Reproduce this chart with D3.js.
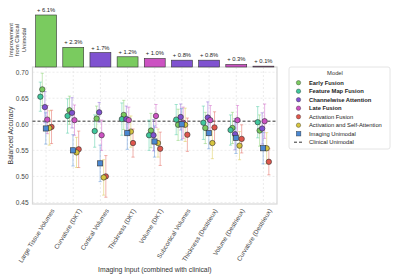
<!DOCTYPE html>
<html>
<head>
<meta charset="utf-8">
<script src="https://cdn.jsdelivr.net/npm/d3@7"></script>
<style>
  body { margin: 0; background: #fff; }
  svg { display: block; font-family: "Liberation Sans", Arial, sans-serif; }
</style>
</head>
<body>
<div id="chart"></div>
<script>
const categories = [
  "Large Tissue Volumes", "Curvature (DKT)", "Cortical Volumes", "Thickness (DKT)",
  "Volume (DKT)", "Subcortical Volumes", "Thickness (Destrieux)", "Volume (Destrieux)",
  "Curvature (Destrieux)"
]

const models = [
  "Early Fusion", "Feature Map Fusion", "Channelwise Attention", "Late Fusion",
  "Activation Fusion", "Activation and Self-Attention", "Imaging Unimodal"
]
const boldModels = ["Early Fusion", "Feature Map Fusion", "Channelwise Attention", "Late Fusion"]
const modelColors = ["#7acb5f", "#3fc79c", "#7f52d0", "#cc52c2", "#df564c", "#d6c43e", "#4a88d2"]

const earlyFusion        = [0.667, 0.627, 0.611, 0.618, 0.588, 0.599, 0.593, 0.593, 0.588]
const featureMapFusion   = [0.653, 0.616, 0.587, 0.610, 0.579, 0.609, 0.603, 0.589, 0.604]
const channelwise        = [0.633, 0.622, 0.623, 0.610, 0.579, 0.614, 0.613, 0.581, 0.592]
const lateFusion         = [0.609, 0.608, 0.579, 0.608, 0.616, 0.603, 0.608, 0.608, 0.606]
const activationFusion   = [0.595, 0.552, 0.500, 0.564, 0.553, 0.580, 0.594, 0.572, 0.528]
const activationSelfAttn = [0.593, 0.546, 0.498, 0.586, 0.564, 0.599, 0.564, 0.559, 0.554]
const imagingUnimodal    = [0.592, 0.550, 0.525, 0.583, 0.567, 0.600, 0.583, 0.574, 0.554]

const earlyFusionErr        = [0.031, 0.027, 0.024, 0.028, 0.033, 0.030, 0.030, 0.030, 0.030]
const featureMapFusionErr   = [0.028, 0.033, 0.031, 0.031, 0.029, 0.029, 0.032, 0.029, 0.030]
const channelwiseErr        = [0.030, 0.029, 0.019, 0.025, 0.030, 0.025, 0.030, 0.030, 0.030]
const lateFusionErr         = [0.027, 0.029, 0.029, 0.025, 0.022, 0.030, 0.028, 0.028, 0.033]
const activationFusionErr   = [0.032, 0.035, 0.040, 0.027, 0.032, 0.032, 0.030, 0.027, 0.025]
const activationSelfAttnErr = [0.033, 0.029, 0.034, 0.030, 0.027, 0.032, 0.030, 0.027, 0.030]
const imagingUnimodalErr    = [0.030, 0.030, 0.035, 0.031, 0.030, 0.030, 0.030, 0.030, 0.030]

const clinicalUnimodal = 0.606

const improvement = [6.1, 2.3, 1.7, 1.2, 1.0, 0.8, 0.8, 0.3, 0.1]
const bestModel = [
  "Early Fusion", "Early Fusion", "Channelwise Attention", "Early Fusion", "Late Fusion",
  "Channelwise Attention", "Channelwise Attention", "Late Fusion", "Late Fusion"
]

const yTicks = [0.45, 0.50, 0.55, 0.60, 0.65, 0.70]

const seriesValues = [earlyFusion, featureMapFusion, channelwise, lateFusion,
  activationFusion, activationSelfAttn, imagingUnimodal]
const seriesErrors = [earlyFusionErr, featureMapFusionErr, channelwiseErr, lateFusionErr,
  activationFusionErr, activationSelfAttnErr, imagingUnimodalErr]

// horizontal dodge per model, as a fraction of the category step
const dodge = [-0.14, -0.21, -0.045, 0.045, 0.2, 0.12, -0.01]

const width = 400, height = 280
const plot = { left: 32.5, right: 277, top: 67, bottom: 204 }
const barTop = 15

const svg = d3.select("#chart").append("svg")
  .attr("width", width).attr("height", height)
  .attr("viewBox", `0 0 ${width} ${height}`)

const x = d3.scalePoint().domain(categories).range([plot.left, plot.right]).padding(0.5)
const step = x.step()
const y = d3.scaleLinear().domain([0.447, 0.71]).range([plot.bottom, plot.top])
const yBar = d3.scaleLinear().domain([0, 6.1]).range([plot.top, barTop])
const color = d3.scaleOrdinal().domain(models).range(modelColors)

// grid
const grid = svg.append("g")
grid.selectAll("line.v").data(categories).join("line")
  .attr("x1", d => x(d)).attr("x2", d => x(d))
  .attr("y1", plot.top).attr("y2", plot.bottom)
  .attr("stroke", "#e4e4e4").attr("stroke-width", 0.7).attr("stroke-dasharray", "2,2")
grid.selectAll("line.h").data(yTicks).join("line")
  .attr("x1", plot.left).attr("x2", plot.right)
  .attr("y1", d => y(d)).attr("y2", d => y(d))
  .attr("stroke", "#e4e4e4").attr("stroke-width", 0.7).attr("stroke-dasharray", "2,2")

// frame
svg.append("rect")
  .attr("x", plot.left).attr("y", plot.top)
  .attr("width", plot.right - plot.left).attr("height", plot.bottom - plot.top)
  .attr("fill", "none").attr("stroke", "#d8d8d8").attr("stroke-width", 1.2)

// y axis
const yAxis = svg.append("g")
  .attr("transform", `translate(${plot.left},0)`)
  .call(d3.axisLeft(y).tickValues(yTicks).tickFormat(d3.format(".2f")).tickSize(0).tickPadding(4))
yAxis.select(".domain").remove()
yAxis.selectAll("text").attr("font-size", 6.5).attr("fill", "#444").attr("font-family", "Liberation Sans, Arial, sans-serif")

// x axis
const xAxis = svg.append("g")
  .attr("transform", `translate(0,${plot.bottom})`)
  .call(d3.axisBottom(x).tickSize(0).tickPadding(3))
xAxis.select(".domain").remove()
xAxis.selectAll("text")
  .attr("font-size", 6.3).attr("fill", "#444").attr("font-family", "Liberation Sans, Arial, sans-serif")
  .attr("text-anchor", "end")
  .attr("dy", "0.3em")
  .attr("transform", "translate(4,4) rotate(-58)")

// axis titles
svg.append("text")
  .attr("transform", `translate(13,${(plot.top + plot.bottom) / 2}) rotate(-90)`)
  .attr("text-anchor", "middle").attr("font-size", 6.8).attr("fill", "#333")
  .text("Balanced Accuracy")
svg.append("text")
  .attr("x", (plot.left + plot.right) / 2).attr("y", 272)
  .attr("text-anchor", "middle").attr("font-size", 6.8).attr("fill", "#333")
  .text("Imaging Input (combined with clinical)")

const barTitle = svg.append("text")
  .attr("transform", `translate(18,40) rotate(-90)`)
  .attr("text-anchor", "middle").attr("font-size", 5.8).attr("fill", "#333")
;["Improvement", "from Clinical", "Unimodal"].forEach((t, i) => {
  barTitle.append("tspan").attr("x", 0).attr("dy", i === 0 ? "-0.9em" : "1.1em").text(t)
})

// improvement bars
const barW = step * 0.77
svg.append("g").selectAll("rect").data(categories).join("rect")
  .attr("x", d => x(d) - barW / 2)
  .attr("y", (d, i) => yBar(improvement[i]))
  .attr("width", barW)
  .attr("height", (d, i) => plot.top - yBar(improvement[i]))
  .attr("fill", (d, i) => color(bestModel[i]))
  .attr("stroke", "#333").attr("stroke-width", 0.6)
svg.append("g").selectAll("text").data(categories).join("text")
  .attr("x", d => x(d))
  .attr("y", (d, i) => yBar(improvement[i]) - 3)
  .attr("text-anchor", "middle").attr("font-size", 5.8).attr("fill", "#222")
  .text((d, i) => `+ ${improvement[i].toFixed(1)}%`)

// clinical unimodal reference
svg.append("line")
  .attr("x1", plot.left).attr("x2", plot.right)
  .attr("y1", y(clinicalUnimodal)).attr("y2", y(clinicalUnimodal))
  .attr("stroke", "#333").attr("stroke-width", 1).attr("stroke-dasharray", "3,2")

// error bars and points
const points = []
models.forEach((m, mi) => {
  categories.forEach((c, ci) => {
    points.push({ model: m, mi, cat: c, v: seriesValues[mi][ci], e: seriesErrors[mi][ci] })
  })
})
const px = d => x(d.cat) + dodge[d.mi] * step
const cap = 1.6

const errG = svg.append("g")
points.forEach(d => {
  const g = errG.append("g").attr("stroke", color(d.model)).attr("stroke-opacity", 0.5).attr("stroke-width", 0.9)
  g.append("line").attr("x1", px(d)).attr("x2", px(d)).attr("y1", y(d.v - d.e)).attr("y2", y(d.v + d.e))
  g.append("line").attr("x1", px(d) - cap).attr("x2", px(d) + cap).attr("y1", y(d.v - d.e)).attr("y2", y(d.v - d.e))
  g.append("line").attr("x1", px(d) - cap).attr("x2", px(d) + cap).attr("y1", y(d.v + d.e)).attr("y2", y(d.v + d.e))
})

const markG = svg.append("g")
points.forEach(d => {
  if (d.model === "Imaging Unimodal") {
    markG.append("rect")
      .attr("x", px(d) - 2.6).attr("y", y(d.v) - 2.6).attr("width", 5.2).attr("height", 5.2)
      .attr("fill", color(d.model)).attr("stroke", "#333").attr("stroke-width", 0.6)
  } else {
    markG.append("circle")
      .attr("cx", px(d)).attr("cy", y(d.v)).attr("r", 2.7)
      .attr("fill", color(d.model)).attr("stroke", "#333").attr("stroke-width", 0.6)
  }
})

// legend
const lg = svg.append("g").attr("transform", "translate(289,67)")
lg.append("rect").attr("width", 101).attr("height", 82).attr("rx", 2)
  .attr("fill", "#fff").attr("stroke", "#ddd").attr("stroke-width", 0.8)
lg.append("text").attr("x", 46).attr("y", 8).attr("text-anchor", "middle")
  .attr("font-size", 5.8).attr("fill", "#333").text("Model")
const legendItems = models.concat(["Clinical Unimodal"])
legendItems.forEach((m, i) => {
  const row = lg.append("g").attr("transform", `translate(0,${15.7 + i * 8.5})`)
  if (m === "Clinical Unimodal") {
    row.append("line").attr("x1", 5).attr("x2", 15).attr("y1", 0).attr("y2", 0)
      .attr("stroke", "#333").attr("stroke-width", 1).attr("stroke-dasharray", "3,2")
  } else if (m === "Imaging Unimodal") {
    row.append("rect").attr("x", 7.3).attr("y", -2.3).attr("width", 4.6).attr("height", 4.6)
      .attr("fill", color(m)).attr("stroke", "#333").attr("stroke-width", 0.4)
  } else {
    row.append("circle").attr("cx", 9.5).attr("cy", 0).attr("r", 2.2)
      .attr("fill", color(m)).attr("stroke", "#333").attr("stroke-width", 0.4)
  }
  row.append("text").attr("x", 20).attr("y", 2)
    .attr("font-size", 5.8).attr("fill", "#222")
    .attr("font-weight", boldModels.includes(m) ? 700 : 400)
    .text(m)
})
</script>
</body>
</html>
